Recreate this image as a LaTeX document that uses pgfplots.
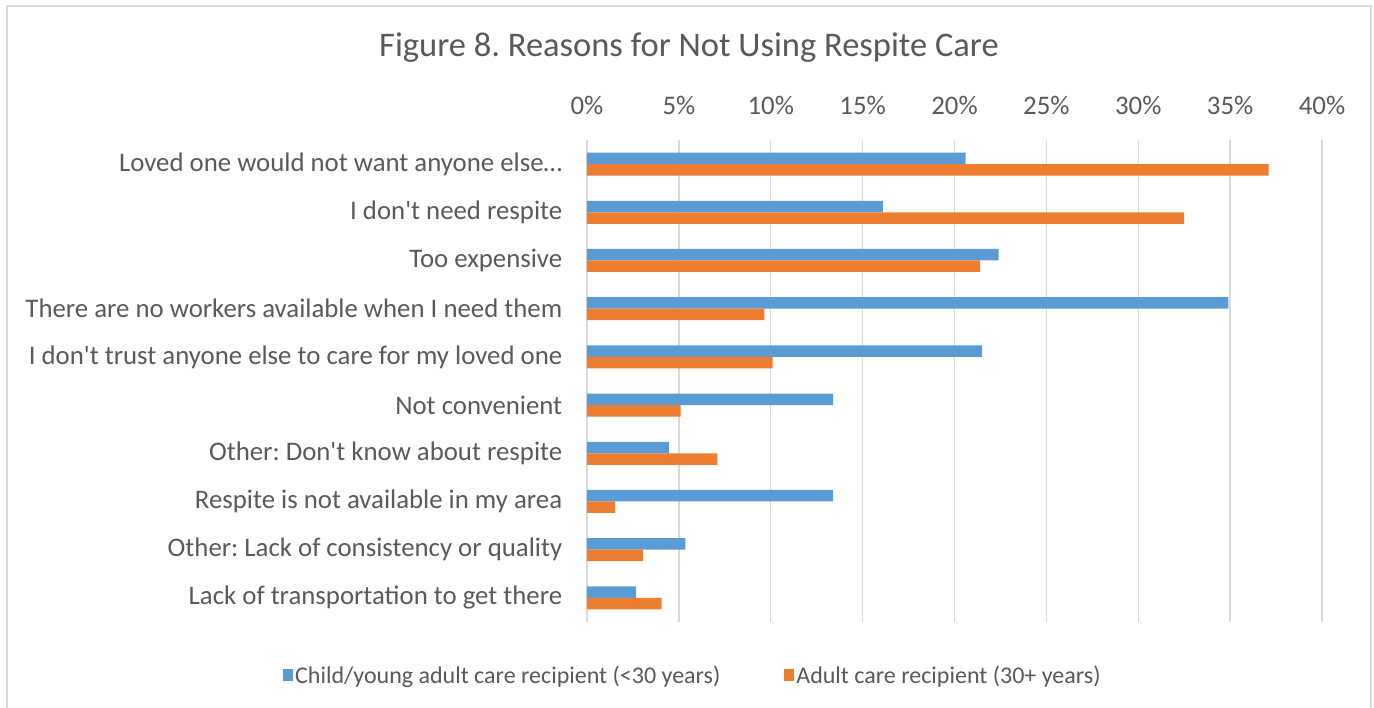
\documentclass[border=0pt]{standalone}
\usepackage{pgfplots}
\pgfplotsset{compat=1.18}
\usepackage{fontspec}
\setmainfont{Carlito}
\frenchspacing
\definecolor{txt}{HTML}{595959}
\definecolor{cblue}{HTML}{5B9BD5}
\definecolor{corange}{HTML}{ED7D31}
\definecolor{gridc}{HTML}{D9D9D9}
\begin{document}
\begin{tikzpicture}[x=1pt,y=1pt]
\useasboundingbox (0,0) rectangle (1374,708);
\draw[gridc!90!black!60, line width=1.2pt] (7,-5) rectangle (1371,702);
\node[txt, font=\fontsize{34.5}{40}\selectfont] at (689,660) {Figure 8. Reasons for Not Using Respite Care};
\begin{axis}[
  at={(587pt,86pt)}, anchor=south west,
  scale only axis, width=735pt, height=482pt,
  xbar, y dir=reverse,
  bar width=11.5pt,
  xmin=0, xmax=40, ymin=-0.5, ymax=9.5,
  xtick={0,5,...,40},
  xticklabel pos=right,
  xticklabel={\pgfmathprintnumber{\tick}\%},
  xticklabel style={yshift=22pt},
  ytick={0,...,9},
  yticklabels={Loved one would not want anyone else…, I don\textquotesingle t need respite, Too expensive, There are no workers available when I need them, I don\textquotesingle t trust anyone else to care for my loved one, Not convenient, Other: Don\textquotesingle t know about respite, Respite is not available in my area, Other: Lack of consistency or quality, Lack of transportation to get there},
  yticklabel style={xshift=-17pt},
  ticklabel style={font=\fontsize{26.8}{30}\selectfont, text=txt},
  /pgf/number format/assume math mode=true,
  xmajorgrids, major grid style={gridc, line width=1.5pt},
  axis line style={draw=none},
  tick style={draw=none},
  legend style={at={(0.144,-0.11)}, anchor=center, draw=none, legend columns=2,
    font=\fontsize{24}{28}\selectfont, text=txt,
    /tikz/every even column/.append style={column sep=62pt}},
  legend image code/.code={\fill[#1] (0pt,-6pt) rectangle (10pt,6pt);},
]
\addplot[fill=cblue, draw=none, bar shift=5.75pt] coordinates {
(20.6,0) (16.1,1) (22.4,2) (34.9,3) (21.5,4) (13.4,5) (4.45,6) (13.4,7) (5.35,8) (2.68,9)};
\addplot[fill=corange, draw=none, bar shift=-5.75pt] coordinates {
(37.1,0) (32.5,1) (21.4,2) (9.65,3) (10.1,4) (5.1,5) (7.1,6) (1.53,7) (3.04,8) (4.06,9)};
\legend{Child/young adult care recipient (<30 years), Adult care recipient (30+ years)}
\end{axis}
\end{tikzpicture}
\end{document}
